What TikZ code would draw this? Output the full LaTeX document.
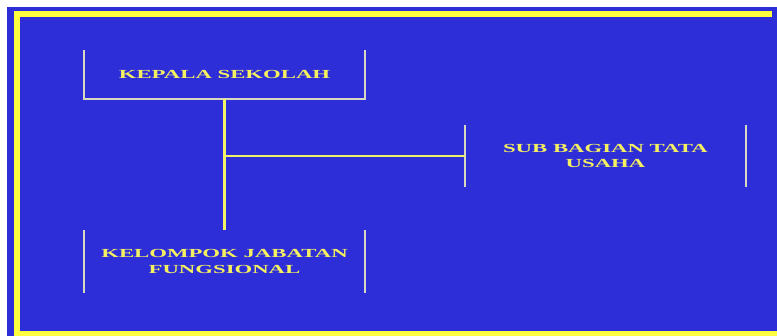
\documentclass[tikz,border=0pt]{standalone}
\usepackage{fontspec}
\usepackage{tikz}
\usetikzlibrary{positioning}
\newfontfamily\bagfont[FakeStretch=1.85]{Liberation Serif}
\definecolor{biru}{HTML}{2E2ED8}
\definecolor{kuning}{HTML}{FFFF40}
\definecolor{garis}{HTML}{D8D8C0}
\definecolor{teks}{HTML}{F4F060}

\begin{document}
\begin{tikzpicture}[x=0.03cm,y=-0.03cm,
    jabatan/.style={minimum width=8.43cm,inner sep=0pt,align=center,text=teks,
                    font=\bagfont\bfseries\fontsize{10.5}{13}\selectfont},
    sisi/.style={garis,line width=1.7pt},
    hubung/.style={kuning!70!garis,line width=2pt}]
  \useasboundingbox (0,0) rectangle (777,336);
  \fill[biru] (7,7) rectangle (777,336);
  \draw[kuning,line width=4.5pt] (772,14) -- (17,14) -- (17,336) (17,334) -- (777,334);
  \node[jabatan,minimum height=1.47cm] (kepala) at (224.5,74.5) {KEPALA SEKOLAH};
  \node[jabatan,minimum height=1.86cm] (subbag) at (605.5,156) {SUB BAGIAN TATA\\USAHA};
  \node[jabatan,minimum height=1.89cm] (kelompok) at (224.5,261.5) {KELOMPOK JABATAN\\FUNGSIONAL};
  \draw[sisi] (kepala.north west) -- (kepala.south west) -- (kepala.south east) -- (kepala.north east);
  \draw[sisi] (subbag.north west) -- (subbag.south west) (subbag.north east) -- (subbag.south east);
  \draw[sisi] (kelompok.north west) -- (kelompok.south west) (kelompok.north east) -- (kelompok.south east);
  \coordinate (cabang) at (kepala.south |- subbag.west);
  \draw[hubung] (kepala.south) -- (kelompok.north);
  \draw[hubung] (cabang) -- (subbag.west);
\end{tikzpicture}
\end{document}
